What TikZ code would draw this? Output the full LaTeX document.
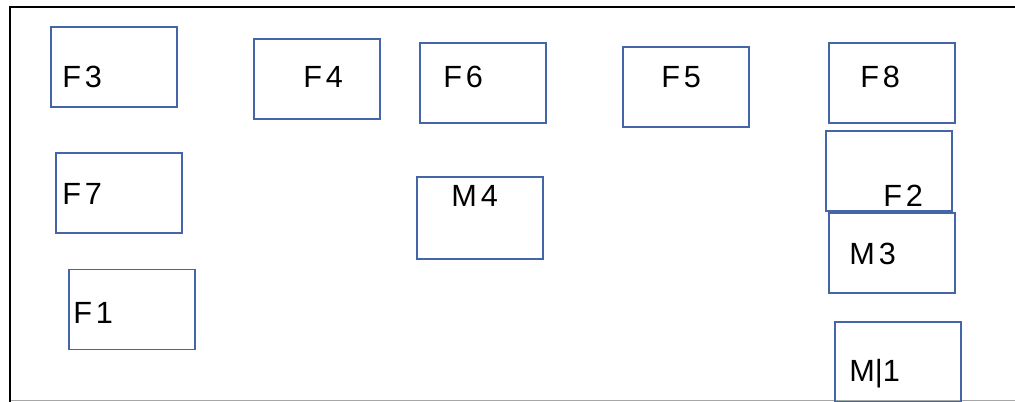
\documentclass[tikz,border=0pt]{standalone}
\usepackage{fontspec}
\usepackage{xcolor}
\usepackage{tikz}
\usetikzlibrary{positioning}
\setmainfont{Liberation Sans}
\newfontfamily\tagfont[LetterSpace=13]{Liberation Sans}
\definecolor{boxblue}{RGB}{68,102,168}

\begin{document}
\begin{tikzpicture}[x=0.75pt, y=-0.75pt,
fbox/.style={rectangle, draw=boxblue, line width=1.4pt, inner sep=0pt, minimum width=94.5pt, minimum height=60pt},
tag/.style={anchor=base west, inner sep=0pt, font=\tagfont\fontsize{23}{26}\selectfont},
]
\useasboundingbox (0,0) rectangle (1015,402);
\clip (0,0) rectangle (1015,402);
% frame
\draw[gray!70, line width=0.6pt] (10,400) -- (1015,400);
\draw[black, line width=1.6pt] (10,402) |- (1015,7);
%Boxes
\node[fbox] (f3) at (114,67) {};
\node[fbox] (f4) at (317,79) {};
\node[fbox] (f6) at (483,83) {};
\node[fbox] (f5) at (686,87) {};
\node[fbox] (f8) at (892,83) {};
\node[fbox] (f7) at (119,193) {};
\node[fbox, minimum height=61.5pt] (m4) at (480,218) {};
\node[fbox] (f2) at (889,171) {};
\node[fbox] (m3) at (892,253) {};
\node[fbox] (f1) at (132,309.5) {};
\node[fbox] (m1) at (898,362) {};
%Labels
\node[tag] (f3txt) at (62,88) {F3};
\node[tag] (f4txt) at (303,88) {F4};
\node[tag] (f6txt) at (443,88) {F6};
\node[tag] (f5txt) at (661,88) {F5};
\node[tag] (f8txt) at (860,88) {F8};
\node[tag] (f7txt) at (62,205) {F7};
\node[tag] (m4txt) at (451,207) {M4};
\node[tag] (f2txt) at (883,207) {F2};
\node[tag] (m3txt) at (849,265) {M3};
\node[tag] (f1txt) at (73,324) {F1};
\node[tag, font=\fontsize{23}{26}\selectfont] (m1txt) at (849,382) {M|1};
\end{tikzpicture}
\end{document}
